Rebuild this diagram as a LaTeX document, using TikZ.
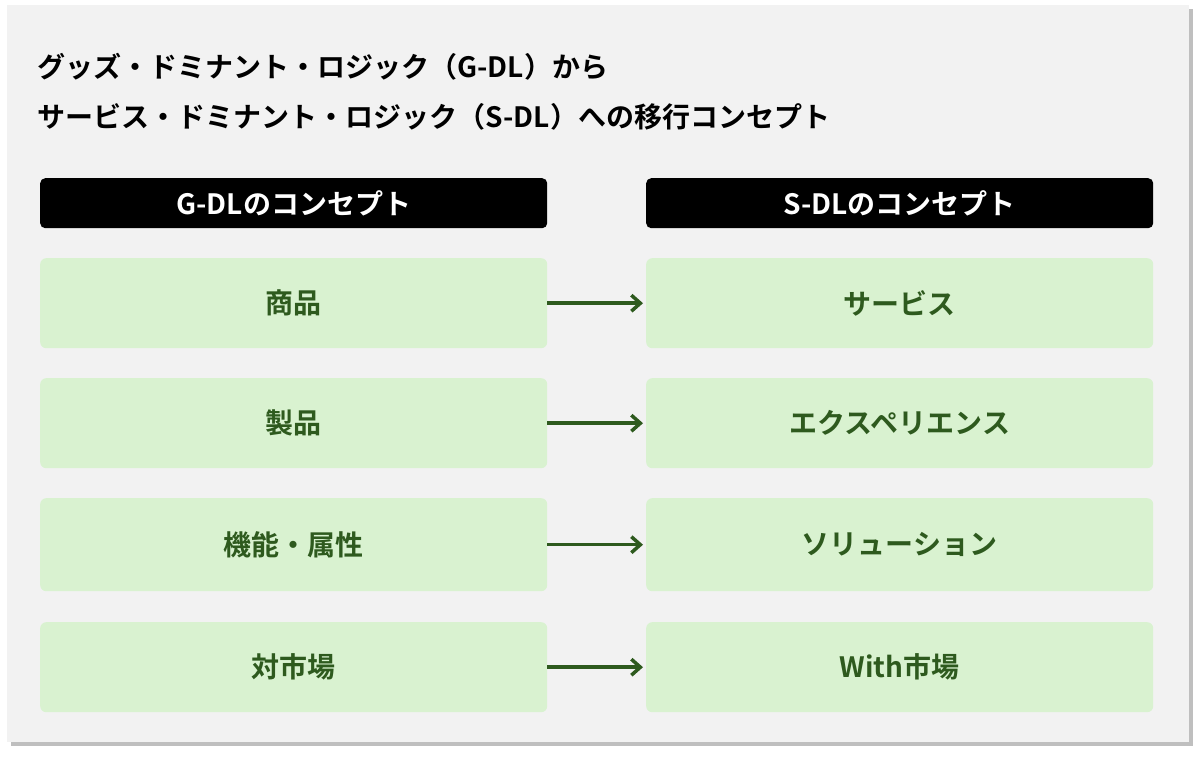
\documentclass[tikz,border=0pt]{standalone}
\usepackage{fontspec}
\setmainfont{Noto Sans CJK JP}[BoldFont={Noto Sans CJK JP Bold}]
\usetikzlibrary{arrows.meta,shadows}
\definecolor{panel}{HTML}{F2F2F2}
\definecolor{cell}{HTML}{D9F2D0}
\definecolor{dg}{HTML}{2E5A1E}
\tikzset{
 big/.style={font=\bfseries\fontsize{28pt}{32pt}\selectfont},
 hdr/.style={big,fill=black,rounded corners=5pt,minimum width=507pt,minimum height=50pt,text=white,anchor=north west,inner sep=0},
 cellbox/.style={big,fill=cell,rounded corners=6pt,minimum width=507pt,minimum height=90pt,text=dg,anchor=north west,inner sep=0},
 arr/.style={draw=dg,line width=3.5pt,-{Straight Barb[length=9pt,width=16pt]}}
}
\begin{document}
\begin{tikzpicture}[x=1pt,y=-1pt]
\useasboundingbox (0,0) rectangle (1200,757);
\fill[black!25] (11,9) rectangle (1193,746);
\fill[panel] (7,5) rectangle (1189,742);
\node[anchor=west,big] (t1) at (34,67) {グッズ・ドミナント・ロジック（G-DL）から};
\node[anchor=west,big] (t2) at (34,117) {サービス・ドミナント・ロジック（S-DL）への移行コンセプト};
\node[hdr] (hl) at (40,178) {\raisebox{-2pt}{G-DLのコンセプト}};
\node[hdr] (hr) at (646,178) {\raisebox{-2pt}{S-DLのコンセプト}};
\foreach \i/\y/\h/\a/\b in {1/258/90/商品/サービス,2/378/90/製品/エクスペリエンス,3/498/93/機能・属性/ソリューション,4/622/90/対市場/With市場}{
 \node[cellbox,minimum height=\h pt] (l\i) at (40,\y) {\raisebox{-4pt}{\a}};
 \node[cellbox,minimum height=\h pt] (r\i) at (646,\y) {\raisebox{-4pt}{\b}};
 \draw[arr] (l\i.east) -- ([xshift=-3pt]r\i.west);
}
\end{tikzpicture}
\end{document}
